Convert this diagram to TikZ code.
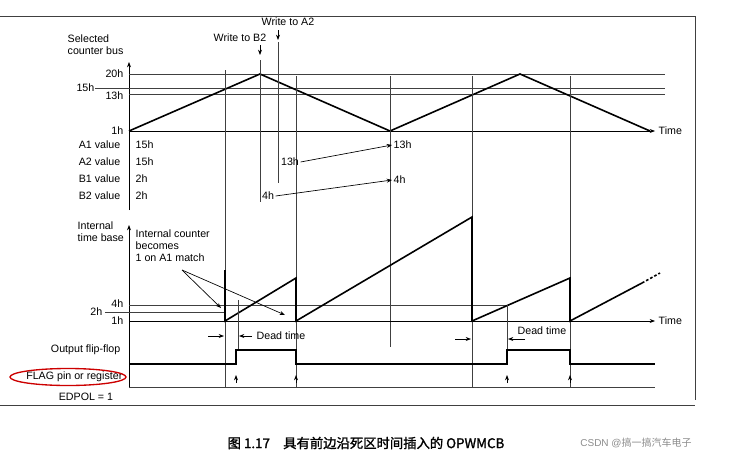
\documentclass[tikz,border=0pt]{standalone}
\usepackage{fontspec}
\setmainfont{Liberation Sans}
\newfontfamily\cjk{Noto Sans CJK SC}[FakeBold=1.5]
\newfontfamily\cjklight{Noto Sans CJK SC}
\usetikzlibrary{arrows.meta}
\tikzset{every picture/.style={line width=0.5pt}}
\tikzset{
  lbl/.style={font=\fontsize{8}{9}\selectfont, inner sep=1pt},
  sig/.style={line width=1.2pt},
  grid/.style={line width=0.4pt, draw=black!75},
  tip/.style={-{Stealth[length=4pt,width=3pt]}}
}
\begin{document}
\begin{tikzpicture}[x=0.75pt,y=0.75pt,yscale=-1,xscale=1]
\useasboundingbox (0,0) rectangle (731,457);

%Frame
\draw [grid] (0,16) -- (695,16) -- (695,400) ;
\draw [grid] (0,405) -- (695,405) ;

%Upper axis
\coordinate (uo) at (129,131);
\draw [tip] (129,210) -- (129,62) ;
\draw [tip] (uo) -- (655,131) ;
\node [lbl, anchor=west] (time1) at (657,131) {Time};
\draw [grid] (129,74) -- (665,74) ;
\draw [grid] (95,88) -- (665,88) ;
\draw [grid] (129,94) -- (665,94) ;
\draw [sig] (uo) -- (260,74) -- (390,131) -- (520,74) -- (650,131) ;

\node [lbl, align=left, anchor=south west] (bus) at (66,56) {Selected\\counter bus};
\node [lbl, anchor=east] (h20) at (125,74) {20h};
\node [lbl, anchor=east] (h15) at (96,88) {15h};
\node [lbl, anchor=east] (h13) at (125,96) {13h};
\node [lbl, anchor=east] (h1) at (125,131) {1h};

%Vertical markers
\draw [grid] (225,70) -- (225,387) ;
\draw [grid] (260,60) -- (260,202) ;
\draw [grid] (278,42) -- (278,183) ;
\draw [grid] (296,76) -- (296,387) ;
\draw [grid] (390,76) -- (390,347) ;
\draw [grid] (472,76) -- (472,387) ;
\draw [grid] (570,76) -- (570,387) ;

%Writes
\node [lbl] (wb2) at (240,38) {Write to B2};
\node [lbl] (wa2) at (288,22) {Write to A2};
\coordinate (wb2t) at (260,55);
\coordinate (wa2t) at (278,40);
\draw [tip] (260,45) -- (wb2t) ;
\draw [tip] (278,30) -- (wa2t) ;

%Register values
\foreach \n/\v/\y in {A1/15h/145, A2/15h/162, B1/2h/179, B2/2h/196}{
  \node [lbl, anchor=east] (r\n) at (122,\y) {\n\ value};
  \node [lbl, anchor=west] (v\n) at (134,\y) {\v};
}
\node [lbl] (a2new) at (290,162) {13h};
\node [lbl, anchor=west] (a1new) at (392,145) {13h};
\node [lbl] (b2new) at (268,196) {4h};
\node [lbl, anchor=west] (b1new) at (392,180) {4h};
\draw [tip] (a2new.east) -- (a1new.west) ;
\draw [tip] (b2new.east) -- (b1new.west) ;

%Lower axis
\coordinate (lo) at (129,321);
\draw [tip] (129,388) -- (129,225) ;
\draw [tip] (lo) -- (655,321) ;
\node [lbl, anchor=west] (time2) at (657,321) {Time};
\draw [grid] (129,305) -- (508,305) ;
\draw [grid] (105,312) -- (225,312) ;
\node [lbl, align=left, anchor=south west] (itb) at (76,243) {Internal\\time base};
\node [lbl, anchor=east] (l4) at (125,304) {4h};
\node [lbl, anchor=east] (l2) at (104,312) {2h};
\node [lbl, anchor=east] (l1) at (125,321) {1h};

%Sawtooth
\draw [sig] (225,270) -- (225,321) -- (296,278) -- (296,321) -- (472,217) -- (472,321) -- (570,278) -- (570,321) -- (642,283) ;
\draw [sig, dash pattern={on 2pt off 1.5pt}] (642,283) -- (660,273) ;
\draw [grid, dash pattern={on 2pt off 2pt}] (225,258) -- (225,270) ;

\node [lbl, align=left, anchor=north west] (note) at (134,228) {Internal counter\\becomes\\1 on A1 match};
\coordinate (n1) at (221,308);
\coordinate (n2) at (285,315);
\draw [tip] (182,270) -- (n1) ;
\draw [tip] (182,270) -- (n2) ;

%Dead time
\draw [grid] (238,300) -- (238,350) ;
\draw [grid] (507,305) -- (507,350) ;
\draw [tip] (208,336) -- (224,336) ;
\draw [tip] (252,336) -- (239,336) ;
\node [lbl, anchor=west] (dt1) at (255,336) {Dead time};
\draw [tip] (455,339) -- (471,339) ;
\draw [tip] (525,339) -- (508,339) ;
\node [lbl, anchor=west] (dt2) at (516,331) {Dead time};

%Output flip-flop
\node [lbl, anchor=east] (off) at (122,350) {Output flip-flop};
\draw [sig] (129,364) -- (236,364) -- (236,350) -- (296,350) -- (296,364) -- (507,364) -- (507,350) -- (570,350) -- (570,364) -- (655,364) ;
\draw [grid] (129,387) -- (655,387) ;
\foreach \x in {236,296,507,570}{
  \draw [tip] (\x,383) -- (\x,375) ;
}
\node [lbl, anchor=east] (flag) at (124,377) {FLAG pin or register};
\draw [red!80!black, line width=1pt] (68,377) ellipse (58 and 8.5) ;
\node [lbl] (edpol) at (86,397) {EDPOL = 1};

%Caption
\node [font=\cjk\fontsize{10}{11}\selectfont] (cap) at (366,443) {图 1.17\quad 具有前边沿死区时间插入的 OPWMCB};
\node [font=\fontsize{7.5}{9}\selectfont, text=black!45] (wm) at (636,443) {CSDN @{\cjklight 搞一搞汽车电子}};

\end{tikzpicture}
\end{document}
